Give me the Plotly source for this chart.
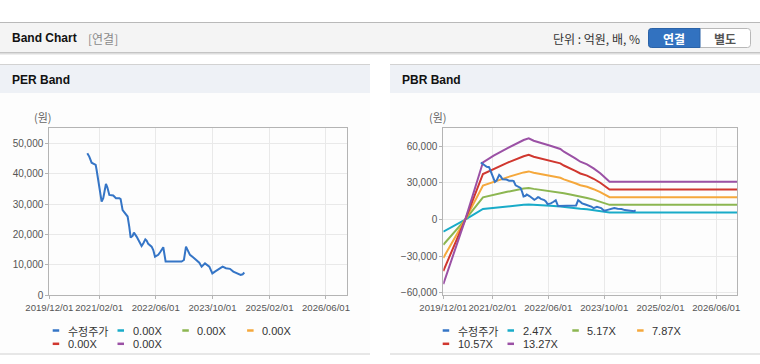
import plotly.graph_objects as go

# ---------------- data ----------------
price_name = "수정주가"
price_dates = [
    "2020-10-22", "2020-11-08", "2020-11-28", "2020-12-13", "2021-01-02", "2021-01-10",
    "2021-01-24", "2021-02-08", "2021-02-22", "2021-03-08", "2021-03-31", "2021-04-12",
    "2021-04-29", "2021-06-02", "2021-06-25", "2021-07-24", "2021-08-04", "2021-08-21",
    "2021-09-13", "2021-10-03", "2021-10-17", "2021-10-29", "2021-11-15", "2021-11-26",
    "2021-12-19", "2022-01-11", "2022-01-31", "2022-02-15", "2022-03-04", "2022-03-15",
    "2022-03-29", "2022-04-27", "2022-05-11", "2022-05-26", "2022-06-23", "2022-07-13",
    "2022-08-05", "2022-08-25", "2023-01-09", "2023-01-29", "2023-02-16", "2023-02-27",
    "2023-03-22", "2023-04-20", "2023-05-18", "2023-06-10", "2023-06-30", "2023-07-29",
    "2023-09-04", "2023-09-30", "2023-10-22", "2023-11-20", "2023-12-27", "2024-01-25",
    "2024-02-28", "2024-03-28", "2024-05-01", "2024-05-30", "2024-06-16", "2024-06-30",
]
price_values = [
    46700, 45600, 43600, 43200, 42900, 41200,
    37900, 34600, 30800, 31900, 36600, 35500,
    33000, 32800, 31900, 31900, 31600, 28000,
    27000, 25900, 22600, 19000, 19500, 20600,
    19300, 17600, 16200, 17100, 18400, 18000,
    16900, 16000, 14900, 12700, 13300, 14400,
    15800, 11100, 11100, 11600, 16000, 15100,
    13300, 12400, 11600, 10700, 9400, 10500,
    9400, 7200, 7800, 8500, 9400, 8900,
    8700, 7800, 7200, 6700, 6900, 7500,
]

bps_dates = [
    "2019-12-01", "2020-06-09", "2020-11-10", "2021-02-11", "2021-06-08", "2021-10-30",
    "2021-12-13", "2022-01-25", "2022-06-19", "2022-09-14", "2022-10-15", "2022-12-09",
    "2023-01-22", "2023-03-07", "2023-05-04", "2023-06-30", "2023-08-27", "2023-11-16",
    "2026-12-01",
]
bps_values = [
    -3979, 0, 3532, 3939, 4395, 4907,
    5011, 4864, 4555, 4352, 4186, 3982,
    3779, 3569, 3409, 3162, 2854, 2336,
    2336,
]

pbr_multiples = [2.47, 5.17, 7.87, 10.57, 13.27]
per_multiples = [0.00, 0.00, 0.00, 0.00, 0.00]

x_tick_vals = ["2019-12-01", "2021-02-01", "2022-06-01", "2023-10-01", "2025-02-01", "2026-06-01"]
x_tick_text = ["2019/12/01", "2021/02/01", "2022/06/01", "2023/10/01", "2025/02/01", "2026/06/01"]
x_range = ["2019-12-01", "2026-12-01"]
per_y_ticks = [0, 10000, 20000, 30000, 40000, 50000]
per_y_range = [0, 54900]
pbr_y_ticks = [-60000, -30000, 0, 30000, 60000]
pbr_y_range = [-61900, 74700]

# ---------------- style ----------------
W, H = 760, 364
PRICE_COLOR = "#3575c6"
BAND_COLORS = ["#19abc8", "#8cb651", "#f5a83c", "#d0372f", "#9b51a5"]
LAT_FONT = "Liberation Sans, Arial, sans-serif"
KR_FONT = "Noto Sans CJK KR, sans-serif"


def px(x):
    return x / W


def py(y):
    return 1 - y / H


fig = go.Figure()

# PER chart: price only (bands are all 0.00X and not drawn)
fig.add_trace(go.Scatter(x=price_dates, y=price_values, mode="lines",
                         line=dict(color=PRICE_COLOR, width=2), xaxis="x", yaxis="y",
                         showlegend=False, name=price_name))

# PBR chart: bands then price
for m, c in zip(pbr_multiples, BAND_COLORS):
    fig.add_trace(go.Scatter(x=bps_dates, y=[b * m for b in bps_values], mode="lines",
                             line=dict(color=c, width=2), xaxis="x2", yaxis="y2",
                             showlegend=False, name=f"{m:.2f}X"))
fig.add_trace(go.Scatter(x=price_dates, y=price_values, mode="lines",
                         line=dict(color=PRICE_COLOR, width=2), xaxis="x2", yaxis="y2",
                         showlegend=False, name=price_name))

axis_common = dict(showline=True, mirror=True, linecolor="#b4b4b4", linewidth=1,
                   showgrid=True, gridcolor="#e9e9e9", gridwidth=1, zeroline=False,
                   ticks="outside", ticklen=3, tickcolor="#b4b4b4", automargin=False)
xtick_font = dict(family=LAT_FONT, size=9.6, color="#555555")
ytick_font = dict(family=LAT_FONT, size=10, color="#555555")

xdom_left = [px(49.3), px(347.3)]
xdom_right = [px(443.3), px(737.3)]
ydom = [py(295.3), py(128.3)]

fig.update_layout(
    width=W, height=H, margin=dict(l=0, r=0, t=0, b=0, autoexpand=False),
    paper_bgcolor="white", plot_bgcolor="white", showlegend=False,
    xaxis=dict(domain=xdom_left, type="date", range=x_range, tickvals=x_tick_vals,
               ticktext=x_tick_text, tickangle=0, tickfont=xtick_font, anchor="y", **axis_common),
    yaxis=dict(domain=ydom, range=per_y_range, tickvals=per_y_ticks, tickfont=ytick_font,
               tickformat=",d", anchor="x", **axis_common),
    xaxis2=dict(domain=xdom_right, type="date", range=x_range, tickvals=x_tick_vals,
                ticktext=x_tick_text, tickangle=0, tickfont=xtick_font, anchor="y2", **axis_common),
    yaxis2=dict(domain=ydom, range=pbr_y_range, tickvals=pbr_y_ticks, tickfont=ytick_font,
                tickformat=",d", anchor="x2", **axis_common),
)

shapes = []
annotations = []


def rect(x0, y0, x1, y1, fill, line=None, layer="below"):
    shapes.append(dict(type="rect", xref="paper", yref="paper", x0=px(x0), x1=px(x1),
                       y0=py(y1), y1=py(y0), fillcolor=fill,
                       line=dict(width=0 if line is None else 1, color=line or fill),
                       layer=layer))


def hline(x0, x1, y, color, width=1):
    shapes.append(dict(type="line", xref="paper", yref="paper", x0=px(x0), x1=px(x1),
                       y0=py(y), y1=py(y), line=dict(color=color, width=width), layer="below"))


def text(x, y, s, size=12, color="#222", family=KR_FONT, bold=False, xanchor="left"):
    annotations.append(dict(x=px(x), y=py(y), xref="paper", yref="paper",
                            text=(f"<b>{s}</b>" if bold else s),
                            showarrow=False, xanchor=xanchor, yanchor="middle",
                            font=dict(size=size, color=color, family=family)))


# top bar
rect(0, 22.5, 760, 52.5, "#f4f4f4")
hline(0, 760, 22.5, "#b9b9b9")
hline(0, 760, 52.5, "#c4c4c4")
hline(0, 760, 53.5, "#dddddd")
hline(0, 760, 54.5, "#eeeeee")
text(10, 38, "Band Chart", size=12, color="#111", family=LAT_FONT, bold=True)
text(86, 38.5, "[연결]", size=12, color="#8a8a8a")
text(551, 38.5, "단위 : 억원, 배, %", size=12, color="#333")


# buttons
def rounded(x0, y0, x1, y1, r, fill, line, left=True, right=True):
    X0, X1 = px(x0), px(x1)
    rx, ry = r / W, r / H
    Y0, Y1 = py(y1), py(y0)  # bottom, top in paper
    p = [f"M {X0 + rx} {Y1}" if left else f"M {X0} {Y1}"]
    if right:
        p.append(f"L {X1 - rx} {Y1} Q {X1} {Y1} {X1} {Y1 - ry} L {X1} {Y0 + ry} Q {X1} {Y0} {X1 - rx} {Y0}")
    else:
        p.append(f"L {X1} {Y1} L {X1} {Y0}")
    if left:
        p.append(f"L {X0 + rx} {Y0} Q {X0} {Y0} {X0} {Y0 + ry} L {X0} {Y1 - ry} Q {X0} {Y1} {X0 + rx} {Y1} Z")
    else:
        p.append(f"L {X0} {Y0} Z")
    shapes.append(dict(type="path", xref="paper", yref="paper", path=" ".join(p),
                       fillcolor=fill, line=dict(color=line, width=1), layer="above"))


rounded(648.5, 28.5, 750.5, 47.5, 3, "#ffffff", "#b8b8b8")
rounded(648.5, 28.5, 700, 47.5, 3, "#3272c0", "#2b63a8", left=True, right=False)
text(674.2, 38.3, "연결", size=12, color="#ffffff", bold=True, xanchor="center")
text(725.3, 38.3, "별도", size=12, color="#555555", bold=True, xanchor="center")

# panels
for (x0, x1, title) in [(0, 370, "PER Band"), (390, 760, "PBR Band")]:
    rect(x0, 93, x1, 354, "#fdfdfd")
    rect(x0, 64.5, x1, 93, "#eef1f6")
    hline(x0, x1, 64.5, "#d2d2d2")
    hline(x0, x1, 354, "#d0d0d0")
    text(x0 + 10, 80, title, size=12, color="#111", family=LAT_FONT, bold=True)

text(43, 117.5, "(원)", size=11, color="#666", xanchor="center")
text(438, 117.5, "(원)", size=11, color="#666", xanchor="center")


# legends
def legend(x0, labels, colors):
    for i, (lab, col) in enumerate(zip(labels, colors)):
        col_i, row_i = i % 4, i // 4
        lx = x0 + col_i * 64.8
        ly = 330.5 + row_i * 13.3
        shapes.append(dict(type="line", xref="paper", yref="paper", x0=px(lx), x1=px(lx + 6.5),
                           y0=py(ly), y1=py(ly), line=dict(color=col, width=2.5)))
        is_kr = any(ord(ch) > 127 for ch in lab)
        text(lx + 13, ly, lab, size=11, color="#333", family=(KR_FONT if is_kr else LAT_FONT))


legend(52.7, [price_name] + [f"{m:.2f}X" for m in per_multiples], [PRICE_COLOR] + BAND_COLORS)
legend(442.7, [price_name] + [f"{m:.2f}X" for m in pbr_multiples], [PRICE_COLOR] + BAND_COLORS)

fig.update_layout(shapes=shapes, annotations=annotations)

fig.write_html("out.html", config={"displayModeBar": False, "staticPlot": True},
               post_script="document.body.style.margin='0';document.body.style.padding='0';")
